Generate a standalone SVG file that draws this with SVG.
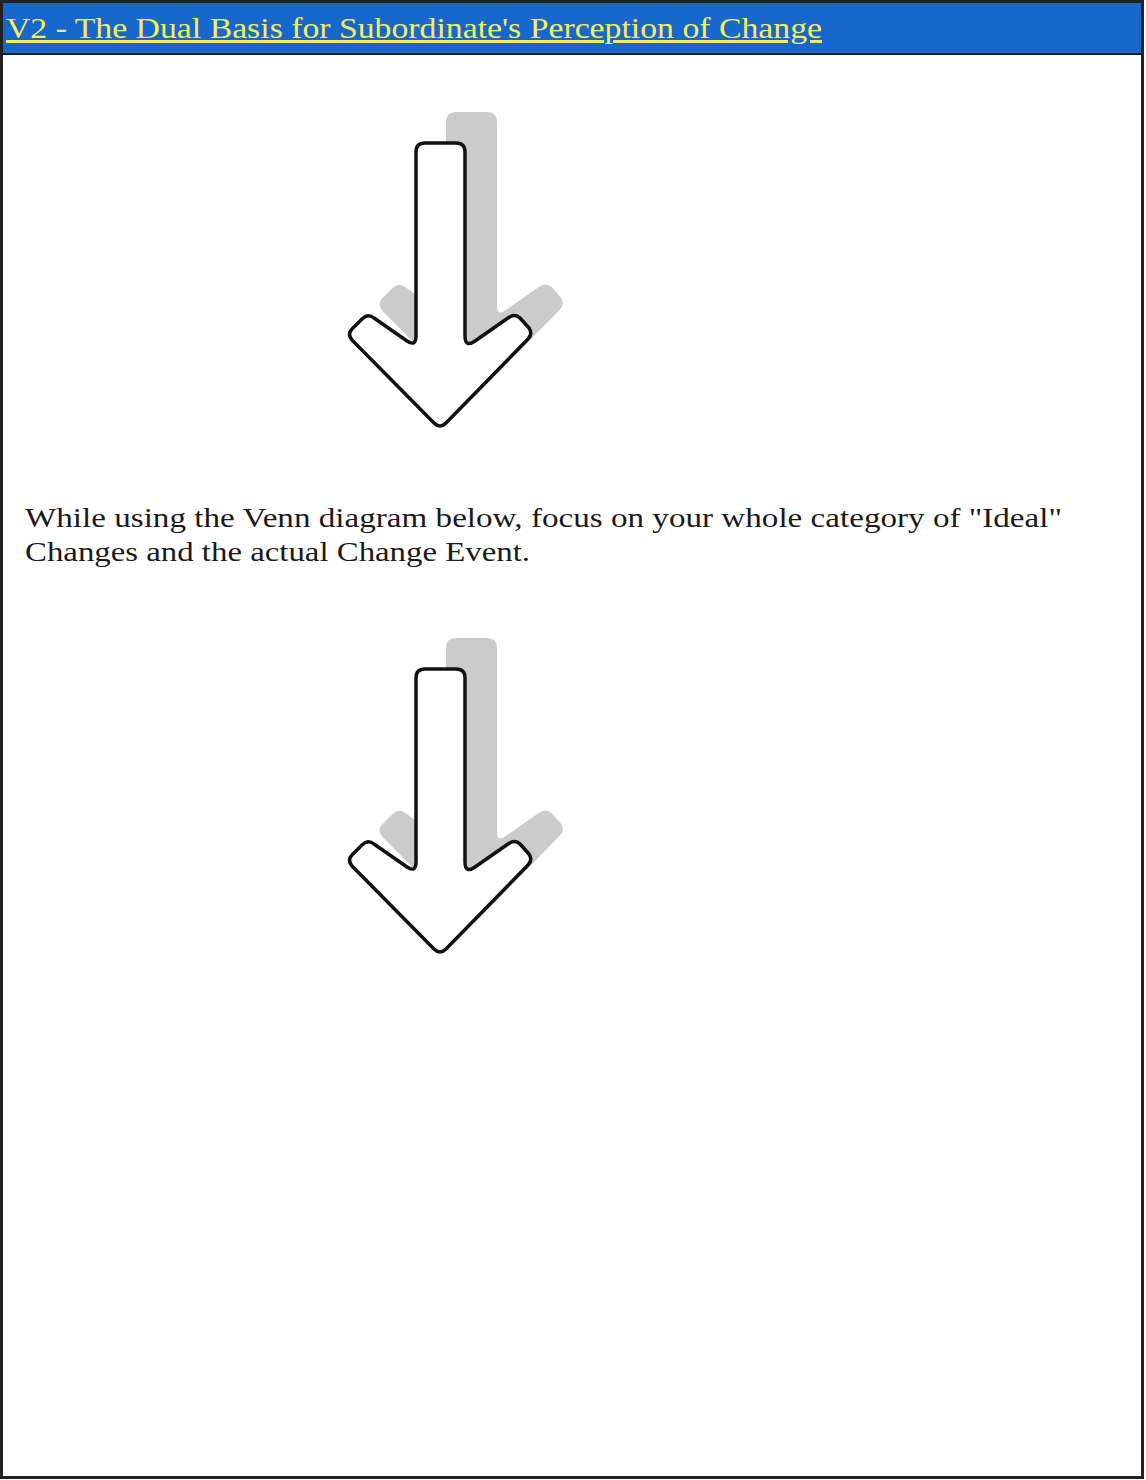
<svg xmlns="http://www.w3.org/2000/svg" width="1146" height="1480" viewBox="0 0 1146 1480">
<style>
.shadow{fill:#cbcbcb;stroke:#cbcbcb;stroke-width:2}
.front{fill:#ffffff;stroke:#111111;stroke-width:3.5;stroke-linejoin:round}
.title{font-family:"Liberation Serif",serif;font-size:30px;fill:#f2ef5a;text-decoration:underline}
.body{font-family:"Liberation Serif",serif;font-size:28px;fill:#1a1a1a}
</style>
<defs>
<path id="arrowShape" d="M 416,152 Q 416,143 425,143 L 456,143 Q 465,143 465,152 L 465,336 Q 465,348 475,341 L 508,318 Q 515,313 520,318 L 529,328 Q 533,334 528,339 L 446,423 Q 440,429 434,423 L 352,340 Q 347,334 352,329 L 362,319 Q 368,313 374,318 L 407,341 Q 416,347 416,336 Z"/>
</defs>
<rect x="0" y="0" width="1146" height="1480" fill="#ffffff"/>
<g id="header">
<rect x="2" y="2" width="1140" height="52" fill="#1767cc" stroke="#0b1f3a" stroke-width="2"/>
<text class="title" x="6" y="38" textLength="816" lengthAdjust="spacingAndGlyphs">V2 - The Dual Basis for Subordinate's Perception of Change</text>
</g>
<g id="arrow1">
<use href="#arrowShape" class="shadow" transform="translate(31,-30)"/>
<use href="#arrowShape" class="front"/>
</g>
<g id="instruction">
<text class="body" x="25" y="527" textLength="1037" lengthAdjust="spacingAndGlyphs">While using the Venn diagram below, focus on your whole category of "Ideal"</text>
<text class="body" x="25" y="561" textLength="505" lengthAdjust="spacingAndGlyphs">Changes and the actual Change Event.</text>
</g>
<g id="arrow2" transform="translate(0,526)">
<use href="#arrowShape" class="shadow" transform="translate(31,-30)"/>
<use href="#arrowShape" class="front"/>
</g>
<g id="connectors"></g>
<rect x="1.5" y="1.5" width="1141" height="1476" fill="none" stroke="#222222" stroke-width="3"/>
</svg>
